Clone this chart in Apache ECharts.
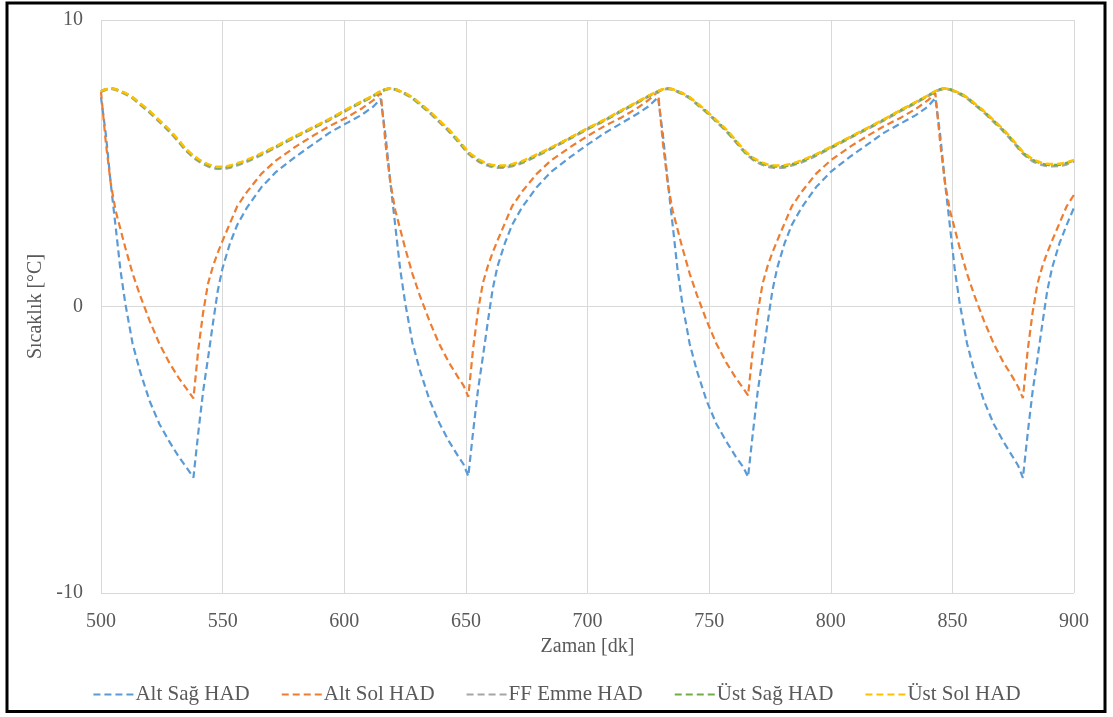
<!DOCTYPE html>
<html>
<head>
<meta charset="utf-8">
<script src="https://cdn.jsdelivr.net/npm/echarts@6/dist/echarts.min.js"></script>
<style>
html,body{margin:0;padding:0;background:#fff;}
#chart{width:1113px;height:717px;}
</style>
</head>
<body>
<div id="chart"></div>
<script>
const seriesNames = ['Alt Sağ HAD','Alt Sol HAD','FF Emme HAD','Üst Sağ HAD','Üst Sol HAD'];
const xTicks = [500,550,600,650,700,750,800,850,900];
const yTicks = [-10,0,10];

const times = [
 500,502,504,506,508,510,513,516,520,524,528,532,535,538,540,542,544,546,548,550,553,556,560,566,572,580,587,594,601,607,612,
 615,617,619,621,623,625,628,631,635,639,643,647,649,651,653,655,657,659,661,663,666,669,673,679,685,693,700,707,714,720,725,
 729,731,733,735,737,739,742,745,749,753,757,761,764,766,768,770,772,774,776,778,781,784,788,794,800,808,815,822,829,835,840,
 843,845,847,849,851,853,856,859,863,867,871,875,877,879,881,883,885,887,889,891,894,897,900
];

const altSag = [
 7.3,6.0,4.3,2.8,1.27,0.1,-1.3,-2.25,-3.3,-4.1,-4.7,-5.25,-5.6,-5.97,-4.4,-2.95,-1.8,-0.6,0.55,1.35,2.2,2.85,3.45,4.17,4.7,5.23,5.65,6.07,6.4,6.68,6.98,
 7.25,5.95,4.3,2.8,1.3,0.15,-1.25,-2.2,-3.25,-4.05,-4.7,-5.25,-5.5,-5.92,-4.35,-2.9,-1.75,-0.55,0.6,1.4,2.2,2.85,3.45,4.15,4.7,5.22,5.65,6.05,6.4,6.7,6.98,
 7.3,6.0,4.35,2.85,1.3,0.1,-1.3,-2.25,-3.3,-4.1,-4.7,-5.25,-5.6,-5.95,-4.4,-2.95,-1.8,-0.6,0.55,1.35,2.2,2.85,3.45,4.17,4.7,5.23,5.65,6.07,6.4,6.68,6.98,
 7.28,5.98,4.3,2.8,1.28,0.12,-1.28,-2.25,-3.3,-4.1,-4.72,-5.27,-5.55,-5.98,-4.4,-2.95,-1.8,-0.6,0.55,1.35,2.2,2.85,3.45
];

const altSol = [
 7.5,5.7,4.3,3.35,2.7,2.05,1.15,0.4,-0.5,-1.3,-1.95,-2.5,-2.85,-3.21,-1.5,-0.2,0.8,1.4,1.88,2.3,2.9,3.5,4.0,4.64,5.1,5.58,5.95,6.3,6.6,6.9,7.2,
 7.45,5.65,4.3,3.35,2.7,2.05,1.15,0.4,-0.5,-1.3,-1.95,-2.5,-2.75,-3.15,-1.45,-0.15,0.82,1.4,1.88,2.3,2.9,3.5,4.0,4.62,5.1,5.57,5.95,6.3,6.6,6.9,7.2,
 7.5,5.7,4.3,3.35,2.7,2.05,1.15,0.4,-0.5,-1.3,-1.95,-2.5,-2.85,-3.1,-1.5,-0.2,0.8,1.4,1.88,2.3,2.9,3.5,4.0,4.64,5.1,5.58,5.95,6.3,6.6,6.9,7.2,
 7.45,5.7,4.3,3.35,2.7,2.05,1.15,0.4,-0.5,-1.3,-1.95,-2.5,-2.8,-3.2,-1.5,-0.2,0.8,1.4,1.88,2.3,2.9,3.5,3.9
];

const ffEmme = [
 7.5,7.57,7.6,7.57,7.5,7.42,7.27,7.06,6.77,6.45,6.12,5.74,5.44,5.21,5.08,4.98,4.9,4.84,4.81,4.81,4.85,4.93,5.06,5.3,5.56,5.92,6.22,6.52,6.85,7.12,7.35,
 7.5,7.57,7.6,7.57,7.5,7.42,7.27,7.06,6.77,6.45,6.12,5.74,5.54,5.34,5.2,5.08,4.99,4.92,4.87,4.85,4.85,4.9,5.01,5.25,5.51,5.87,6.19,6.49,6.82,7.09,7.33,
 7.5,7.57,7.6,7.57,7.5,7.42,7.27,7.06,6.77,6.45,6.12,5.74,5.44,5.27,5.13,5.03,4.95,4.89,4.86,4.85,4.86,4.93,5.04,5.27,5.53,5.89,6.2,6.51,6.84,7.11,7.35,
 7.5,7.57,7.6,7.57,7.5,7.42,7.27,7.06,6.77,6.45,6.12,5.74,5.54,5.34,5.2,5.08,5.0,4.94,4.91,4.9,4.91,4.97,5.07
];

const ustSag = [
 7.51,7.58,7.61,7.58,7.51,7.44,7.29,7.08,6.8,6.48,6.15,5.77,5.47,5.24,5.12,5.02,4.94,4.88,4.85,4.85,4.89,4.97,5.09,5.33,5.58,5.94,6.24,6.54,6.87,7.14,7.36,
 7.51,7.58,7.61,7.58,7.51,7.44,7.29,7.08,6.8,6.48,6.15,5.77,5.57,5.37,5.24,5.12,5.03,4.96,4.91,4.89,4.89,4.94,5.04,5.28,5.53,5.89,6.21,6.51,6.84,7.11,7.34,
 7.51,7.58,7.61,7.58,7.51,7.44,7.29,7.08,6.8,6.48,6.15,5.77,5.47,5.3,5.17,5.07,4.99,4.93,4.9,4.89,4.9,4.96,5.07,5.3,5.55,5.91,6.22,6.53,6.86,7.13,7.36,
 7.51,7.58,7.61,7.58,7.51,7.44,7.29,7.08,6.8,6.48,6.15,5.77,5.57,5.37,5.24,5.12,5.04,4.98,4.95,4.94,4.95,5.01,5.1
];

const ustSol = [
 7.52,7.58,7.61,7.58,7.52,7.45,7.3,7.1,6.82,6.5,6.18,5.8,5.5,5.27,5.15,5.05,4.97,4.91,4.88,4.88,4.92,5.0,5.12,5.35,5.6,5.95,6.25,6.55,6.88,7.15,7.37,
 7.52,7.58,7.61,7.58,7.52,7.45,7.3,7.1,6.82,6.5,6.18,5.8,5.6,5.4,5.27,5.15,5.06,4.99,4.94,4.92,4.92,4.97,5.07,5.3,5.55,5.9,6.22,6.52,6.85,7.12,7.35,
 7.52,7.58,7.61,7.58,7.52,7.45,7.3,7.1,6.82,6.5,6.18,5.8,5.5,5.33,5.2,5.1,5.02,4.96,4.93,4.92,4.93,4.99,5.1,5.32,5.57,5.92,6.23,6.54,6.87,7.14,7.37,
 7.52,7.58,7.61,7.58,7.52,7.45,7.3,7.1,6.82,6.5,6.18,5.8,5.6,5.4,5.27,5.15,5.07,5.01,4.98,4.97,4.98,5.03,5.12
];

const colors = ['#5B9BD5','#ED7D31','#A5A5A5','#70AD47','#FFC000'];
const valueArrays = [altSag, altSol, ffEmme, ustSag, ustSol];
const widths = [2.2, 2.2, 2.8, 2.6, 2.5];
const FONT = 'Liberation Serif';
const GREY = '#595959';

const chart = echarts.init(document.getElementById('chart'), null, {renderer:'canvas'});
chart.setOption({
  animation: false,
  backgroundColor: '#fff',
  color: colors,
  graphic: [{
    type: 'rect', z: 100, silent: true,
    shape: {x: 7, y: 3, width: 1098, height: 708.5},
    style: {fill: 'none', stroke: '#000', lineWidth: 3}
  }],
  grid: {left: 101, right: 39, top: 20, bottom: 124, containLabel: false},
  legend: {
    data: seriesNames,
    top: 679, left: 'center',
    itemWidth: 40, itemHeight: 12, itemGap: 31,
    itemStyle: {opacity: 0},
    textStyle: {color: GREY, fontFamily: FONT, fontSize: 21, padding: [0, 0, 0, -3]},
  },
  xAxis: {
    type: 'value', min: 500, max: 900, interval: 50,
    name: 'Zaman [dk]', nameLocation: 'middle', nameGap: 44,
    nameTextStyle: {color: GREY, fontFamily: FONT, fontSize: 20},
    axisLine: {show: false}, axisTick: {show: false},
    axisLabel: {color: GREY, fontFamily: FONT, fontSize: 20, margin: 19,
      formatter: v => xTicks.includes(v) ? String(v) : ''},
    splitLine: {show: true, lineStyle: {color: '#D9D9D9', width: 1}}
  },
  yAxis: {
    type: 'value', min: -10, max: 10, interval: 10,
    name: 'Sıcaklık [°C]', nameLocation: 'middle', nameGap: 53,
    nameTextStyle: {color: GREY, fontFamily: FONT, fontSize: 20},
    axisLine: {show: false}, axisTick: {show: false},
    axisLabel: {color: GREY, fontFamily: FONT, fontSize: 20, margin: 18,
      formatter: v => yTicks.includes(v) ? String(v) : ''},
    splitLine: {show: true, lineStyle: {color: '#D9D9D9', width: 1}}
  },
  series: seriesNames.map((n, k) => ({
    name: n, type: 'line', symbol: 'none', smooth: k >= 2 ? 0.3 : false,
    z: 2 + k,
    data: times.map((t, i) => [t, valueArrays[k][i]]),
    lineStyle: {color: colors[k], width: widths[k], type: [7, 4]},
    itemStyle: {color: colors[k]}
  }))
});
</script>
</body>
</html>
